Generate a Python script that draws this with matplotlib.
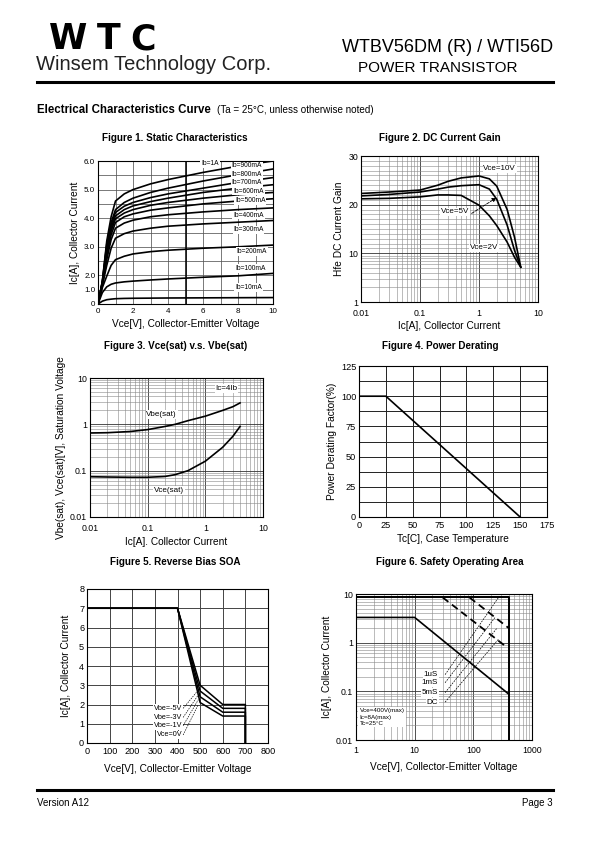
import numpy as np
import matplotlib
matplotlib.use('Agg')
import matplotlib.pyplot as plt
from matplotlib.ticker import NullFormatter

plt.rcParams['font.family'] = ['Liberation Sans', 'DejaVu Sans']

W, H = 595, 842

# ---------------- data ----------------
# Figure 1 - static characteristics
vce1 = [0, 0.25, 0.5, 0.75, 1, 1.5, 2, 3, 4, 6, 8, 10]
ic_ib1000 = [0, 1.6, 3.2, 4.05, 4.6, 4.85, 5.0, 5.2, 5.35, 5.6, 5.82, 6.0]
ic_ib900 = [0, 1.6, 3.1, 3.85, 4.3, 4.55, 4.7, 4.9, 5.05, 5.3, 5.52, 5.72]
ic_ib800 = [0, 1.55, 3.0, 3.75, 4.2, 4.42, 4.55, 4.72, 4.85, 5.05, 5.25, 5.42]
ic_ib700 = [0, 1.5, 2.9, 3.65, 4.08, 4.3, 4.43, 4.58, 4.7, 4.9, 5.05, 5.17]
ic_ib600 = [0, 1.45, 2.8, 3.55, 3.98, 4.18, 4.3, 4.45, 4.55, 4.7, 4.82, 4.9]
ic_ib500 = [0, 1.4, 2.7, 3.42, 3.85, 4.05, 4.15, 4.28, 4.36, 4.5, 4.6, 4.68]
ic_ib400 = [0, 1.35, 2.55, 3.25, 3.65, 3.83, 3.93, 4.05, 4.12, 4.22, 4.3, 4.36]
ic_ib300 = [0, 1.3, 2.35, 2.95, 3.3, 3.46, 3.55, 3.65, 3.72, 3.8, 3.86, 3.92]
ic_ib200 = [0, 1.15, 1.95, 2.35, 2.55, 2.67, 2.75, 2.83, 2.88, 2.95, 3.0, 3.06]
ic_ib100 = [0, 0.8, 1.2, 1.38, 1.47, 1.55, 1.6, 1.68, 1.75, 1.87, 1.97, 2.07]
ic_ib10 = [0, 0.2, 0.3, 0.34, 0.37, 0.39, 0.4, 0.41, 0.42, 0.43, 0.44, 0.45]
ib_labels = ['Ib=1A', 'Ib=900mA', 'Ib=800mA', 'Ib=700mA', 'Ib=600mA', 'Ib=500mA',
             'Ib=400mA', 'Ib=300mA', 'Ib=200mA', 'Ib=100mA', 'Ib=10mA']
ib_label_pos = [(6.4, 5.9), (8.5, 5.83), (8.5, 5.53), (8.5, 5.24), (8.6, 4.95), (8.7, 4.61),
                (8.6, 4.11), (8.6, 3.59), (8.8, 2.83), (8.7, 2.25), (8.6, 1.17)]

# Figure 2 - DC current gain
hfe_ic = [0.01, 0.03, 0.1, 0.2, 0.3, 0.5, 1, 1.5, 2, 3, 4, 5.1]
hfe_10v = [22.3, 22.6, 23.0, 24.0, 24.8, 25.5, 25.9, 25.3, 23.8, 19.0, 13.3, 5.2]
hfe_5v = [21.8, 22.1, 22.6, 23.2, 23.6, 23.9, 24.1, 23.2, 21.1, 15.8, 10.6, 5.2]
hfe_2v = [21.2, 21.3, 21.6, 22.0, 22.0, 21.9, 19.9, 17.7, 15.7, 12.3, 8.3, 5.2]

# Figure 3 - saturation voltages
ic3 = [0.01, 0.02, 0.05, 0.1, 0.2, 0.3, 0.5, 1, 2, 3, 4]
vbe_sat = [0.65, 0.66, 0.7, 0.77, 0.9, 1.0, 1.2, 1.5, 2.0, 2.4, 2.9]
vce_sat = [0.074, 0.073, 0.072, 0.072, 0.075, 0.082, 0.1, 0.16, 0.32, 0.55, 0.9]

# Figure 4 - power derating
tc = [0, 25, 150]
derating = [100, 100, 0]

# Figure 5 - reverse bias SOA
vce5 = [0, 400, 500, 600, 700, 700]
rb_5v = [7, 7, 3.0, 2.0, 2.0, 0]
rb_3v = [7, 7, 2.7, 1.8, 1.8, 0]
rb_1v = [7, 7, 2.4, 1.6, 1.6, 0]
rb_0v = [7, 7, 2.1, 1.4, 1.4, 0]
rb_labels = ['Vbe=-5V', 'Vbe=-3V', 'Vbe=-1V', 'Vce=0V']

# Figure 6 - safe operating area
soa_lim_v = [1, 400, 400]
soa_lim_i = [8.5, 8.5, 0.01]
soa_dc_v = [1, 10, 400]
soa_dc_i = [3.3, 3.3, 0.088]
pulse_a_v = [30, 370]
pulse_a_i = [8.5, 0.81]
pulse_b_v = [86, 400]
pulse_b_i = [8.5, 2.0]
soa_labels = ['1uS', '1mS', '5mS', 'DC']


fig = plt.figure(figsize=(W / 100, H / 100), dpi=100)


def px_axes(l, t, r, b):
    return fig.add_axes([l / W, 1 - b / H, (r - l) / W, (b - t) / H])


def ftxt(x, y, s, **kw):
    fig.text(x / W, 1 - y / H, s, **kw)


def style(ax, size=6.3):
    ax.tick_params(which='both', length=0, labelsize=size)
    ax.tick_params(axis='x', pad=3)
    ax.tick_params(axis='y', pad=2)
    for s in ax.spines.values():
        s.set_linewidth(0.8)
    ax.set_axisbelow(True)


lab = dict(fontsize=7.3)
ttl = dict(fontsize=7.1, fontweight='bold', ha='center', va='center')
box = dict(facecolor='white', edgecolor='none', pad=0.6)

# ---------------- header / footer ----------------
for ch, xc in zip('WTC', [68, 109, 143]):
    ftxt(xc, 39, ch, fontsize=25, fontweight='bold', family='DejaVu Sans', ha='center', va='center')
ftxt(36, 64, 'Winsem Technology Corp.', fontsize=14.5, ha='left', va='center', color='#222')
ftxt(553, 47, 'WTBV56DM (R) / WTI56D', fontsize=13, ha='right', va='center')
ftxt(518, 68, 'POWER TRANSISTOR', fontsize=11, ha='right', va='center')
fig.add_artist(plt.Line2D([37 / W, 553 / W], [1 - 82 / H, 1 - 82 / H], color='k', lw=2.2))
ftxt(37, 110, 'Electrical Characteristics Curve', fontsize=8.3, fontweight='bold', ha='left', va='center')
ftxt(217, 110, '(Ta = 25°C, unless otherwise noted)', fontsize=7.1, ha='left', va='center')

fig.add_artist(plt.Line2D([37 / W, 553 / W], [1 - 790 / H, 1 - 790 / H], color='k', lw=2.2))
ftxt(37, 803, 'Version A12', fontsize=7, ha='left', va='center')
ftxt(553, 803, 'Page 3', fontsize=7, ha='right', va='center')

# ---------------- Figure 1 ----------------
def f1_fwd(y):
    y = np.asarray(y, dtype=float)
    return np.where(y <= 2, y, 2 * y - 2)


def f1_inv(g):
    g = np.asarray(g, dtype=float)
    return np.where(g <= 2, g, (g + 2) / 2)


ax1 = px_axes(98, 161, 273, 304)
style(ax1, 5.8)
ax1.set_yscale('function', functions=(f1_fwd, f1_inv))
ax1.set_xlim(0, 10)
ax1.set_ylim(0, 6)
ax1.set_xticks([0, 2, 4, 6, 8, 10])
ax1.set_xticks([1, 3, 5, 7, 9], minor=True)
ax1.set_yticks([0, 1, 2, 3, 4, 5, 6], ['0', '1.0', '2.0', '3.0', '4.0', '5.0', '6.0'])
ax1.set_yticks([2.5, 3.5, 4.5, 5.5], minor=True)
ax1.grid(which='both', color='#555', lw=0.55)
ax1.axvline(5, color='k', lw=1.1, zorder=1)
for ic in [ic_ib1000, ic_ib900, ic_ib800, ic_ib700, ic_ib600, ic_ib500,
           ic_ib400, ic_ib300, ic_ib200, ic_ib100, ic_ib10]:
    ax1.plot(vce1, ic, color='k', lw=1.2, zorder=3)
for s, (x, y) in zip(ib_labels, ib_label_pos):
    ax1.text(x, y, s, fontsize=4.8, ha='center', va='center', bbox=box, zorder=4)
ax1.set_xlabel('Vce[V], Collector-Emitter Voltage', labelpad=3, **lab)
ax1.set_ylabel('Ic[A], Collector Current', labelpad=3, **lab)
ftxt(175, 138, 'Figure 1. Static Characteristics', **ttl)

# ---------------- Figure 2 ----------------
def f2_fwd(y):
    y = np.asarray(y, dtype=float)
    return np.where(y <= 10, np.log10(np.clip(y, 1e-6, None)), 1 + (y - 10) / 10)


def f2_inv(g):
    g = np.asarray(g, dtype=float)
    return np.where(g <= 1, 10 ** g, 10 + (g - 1) * 10)


ax2 = px_axes(361, 156, 538, 302)
style(ax2)
ax2.set_xscale('log')
ax2.set_yscale('function', functions=(f2_fwd, f2_inv))
ax2.set_xlim(0.01, 10)
ax2.set_ylim(1, 30)
ax2.set_xticks([0.01, 0.1, 1, 10], ['0.01', '0.1', '1', '10'])
ax2.set_xticks([m * d for d in [0.01, 0.1, 1] for m in range(2, 10)], minor=True)
ax2.xaxis.set_minor_formatter(NullFormatter())
ax2.set_yticks([1, 10, 20, 30], ['1', '10', '20', '30'])
ax2.set_yticks(list(range(2, 10)) + list(range(11, 20)) + list(range(21, 30)), minor=True)
ax2.yaxis.set_minor_formatter(NullFormatter())
ax2.tick_params(axis='x', pad=5)
ax2.grid(which='major', color='#333', lw=0.6)
ax2.grid(which='minor', color='#888', lw=0.4)
for h in [hfe_10v, hfe_5v, hfe_2v]:
    ax2.plot(hfe_ic, h, color='k', lw=1.2, zorder=3)
ax2.text(2.25, 27.4, 'Vce=10V', fontsize=5.8, ha='center', va='center', bbox=box, zorder=4)
ax2.text(0.39, 18.5, 'Vce=5V', fontsize=5.8, ha='center', va='center', bbox=box, zorder=4)
ax2.text(1.22, 11.1, 'Vce=2V', fontsize=5.8, ha='center', va='center', bbox=box, zorder=4)
ax2.annotate('', xy=(1.97, 21.4), xytext=(0.75, 18.2),
             arrowprops=dict(arrowstyle='-|>', ls='--', lw=0.6, color='k',
                             mutation_scale=6, shrinkA=0, shrinkB=0), zorder=5)
ax2.set_xlabel('Ic[A], Collector Current', labelpad=2, **lab)
ax2.set_ylabel('Hfe DC Current Gain', labelpad=3, **lab)
ftxt(440, 138, 'Figure 2. DC Current Gain', **ttl)

# ---------------- Figure 3 ----------------
ax3 = px_axes(90, 378, 263, 517)
style(ax3)
ax3.set_xscale('log')
ax3.set_yscale('log')
ax3.set_xlim(0.01, 10)
ax3.set_ylim(0.01, 10)
ax3.set_xticks([0.01, 0.1, 1, 10], ['0.01', '0.1', '1', '10'])
ax3.set_yticks([0.01, 0.1, 1, 10], ['0.01', '0.1', '1', '10'])
minors3 = [m * d for d in [0.01, 0.1, 1] for m in range(2, 10)]
ax3.set_xticks(minors3, minor=True)
ax3.set_yticks(minors3, minor=True)
ax3.xaxis.set_minor_formatter(NullFormatter())
ax3.yaxis.set_minor_formatter(NullFormatter())
ax3.tick_params(axis='x', pad=5)
ax3.grid(which='major', color='#333', lw=0.6)
ax3.grid(which='minor', color='#888', lw=0.4)
ax3.plot(ic3, vbe_sat, color='k', lw=1.2, zorder=3)
ax3.plot(ic3, vce_sat, color='k', lw=1.2, zorder=3)
ax3.text(2.34, 5.97, 'Ic=4Ib', fontsize=5.8, ha='center', va='center', bbox=box, zorder=4)
ax3.text(0.175, 1.62, 'Vbe(sat)', fontsize=5.8, ha='center', va='center', bbox=box, zorder=4)
ax3.text(0.234, 0.037, 'Vce(sat)', fontsize=5.8, ha='center', va='center', bbox=box, zorder=4)
ax3.set_xlabel('Ic[A]. Collector Current', labelpad=3, **lab)
ax3.set_ylabel('Vbe(sat), Vce(sat)[V], Saturation Voltage', labelpad=3, **lab)
ftxt(176, 346, 'Figure 3. Vce(sat) v.s. Vbe(sat)', **ttl)

# ---------------- Figure 4 ----------------
ax4 = px_axes(359, 366, 547, 517)
style(ax4, 6.6)
ax4.set_xlim(0, 175)
ax4.set_ylim(0, 125)
ax4.set_xticks(range(0, 176, 25))
ax4.set_yticks(range(0, 126, 25))
ax4.set_yticks(np.arange(12.5, 125, 25), minor=True)
ax4.grid(which='both', color='#222', lw=0.7)
ax4.plot(tc, derating, color='k', lw=1.2, zorder=3)
ax4.set_xlabel('Tc[C], Case Temperature', labelpad=3, **lab)
ax4.set_ylabel('Power Derating Factor(%)', labelpad=3, **lab)
ftxt(440, 346, 'Figure 4. Power Derating', **ttl)

# ---------------- Figure 5 ----------------
ax5 = px_axes(87, 589, 268, 743)
style(ax5, 6.6)
ax5.set_xlim(0, 800)
ax5.set_ylim(0, 8)
ax5.set_xticks(range(0, 801, 100))
ax5.set_yticks(range(0, 9))
ax5.grid(which='major', color='#444', lw=0.7)
for rb in [rb_5v, rb_3v, rb_1v, rb_0v]:
    ax5.plot(vce5, rb, color='k', lw=1.1, zorder=3)
for s, yl, ye in zip(rb_labels, [1.8, 1.33, 0.9, 0.42], [2.75, 2.5, 2.25, 2.0]):
    ax5.text(422, yl, s, fontsize=5.2, ha='right', va='center', bbox=box, zorder=4)
    ax5.plot([425, 492], [yl, ye], color='k', lw=0.5, ls=(0, (2, 1.5)), zorder=4)
ax5.set_xlabel('Vce[V], Collector-Emitter Voltage', labelpad=6, **lab)
ax5.set_ylabel('Ic[A], Collector Current', labelpad=6, **lab)
ftxt(175, 562, 'Figure 5. Reverse Bias SOA', **ttl)

# ---------------- Figure 6 ----------------
ax6 = px_axes(356, 594, 532, 740)
style(ax6)
ax6.set_xscale('log')
ax6.set_yscale('log')
ax6.set_xlim(1, 1000)
ax6.set_ylim(0.01, 10)
ax6.set_xticks([1, 10, 100, 1000], ['1', '10', '100', '1000'])
ax6.set_yticks([0.01, 0.1, 1, 10], ['0.01', '0.1', '1', '10'])
ax6.set_xticks([m * d for d in [1, 10, 100] for m in range(2, 10)], minor=True)
ax6.set_yticks(minors3, minor=True)
ax6.xaxis.set_minor_formatter(NullFormatter())
ax6.yaxis.set_minor_formatter(NullFormatter())
ax6.tick_params(axis='x', pad=4)
ax6.grid(which='major', color='#333', lw=0.6)
ax6.grid(which='minor', color='#888', lw=0.4)
ax6.plot(soa_lim_v, soa_lim_i, color='k', lw=1.4, zorder=3)
ax6.plot(soa_dc_v, soa_dc_i, color='k', lw=1.2, zorder=3)
ax6.plot(pulse_a_v, pulse_a_i, color='k', lw=1.3, ls=(0, (4, 2.5)), zorder=3)
ax6.plot(pulse_b_v, pulse_b_i, color='k', lw=1.3, ls=(0, (4, 2.5)), zorder=3)
for s, yl, xe, ye in zip(soa_labels, [0.22, 0.15, 0.094, 0.06],
                         [267, 233, 249, 267], [8.4, 3.27, 1.94, 1.17]):
    ax6.text(25, yl, s, fontsize=5.8, ha='right', va='center', bbox=box, zorder=4)
    ax6.plot([33, xe], [yl, ye], color='k', lw=0.5, ls=(0, (2.5, 1.5)), zorder=4)
ax6.text(1.15, 0.045, 'Vce=400V(max)\nIc=8A(max)\nTc=25°C', fontsize=4.5, ha='left', va='top',
         linespacing=1.35, bbox=dict(facecolor='white', edgecolor='none', pad=1), zorder=4)
ax6.set_xlabel('Vce[V], Collector-Emitter Voltage', labelpad=5, **lab)
ax6.set_ylabel('Ic[A], Collector Current', labelpad=3, **lab)
ftxt(450, 562, 'Figure 6. Safety Operating Area', **ttl)

fig.savefig('out.png', dpi=100)
